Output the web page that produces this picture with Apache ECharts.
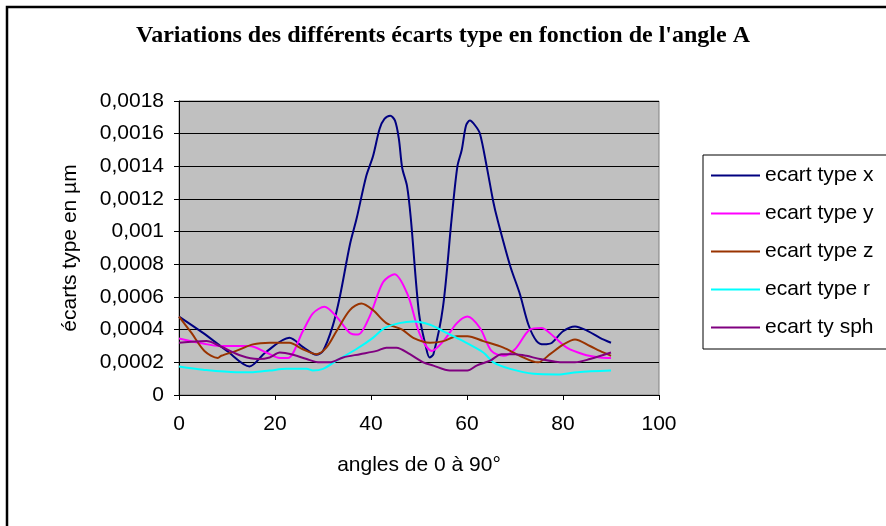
<!DOCTYPE html>
<html>
<head>
<meta charset="utf-8">
<script src="https://cdn.jsdelivr.net/npm/echarts@6/dist/echarts.min.js"></script>
<style>html,body{margin:0;padding:0;background:#fff;}#c{width:886px;height:526px;}</style>
</head>
<body>
<div id="c"></div>
<script>
// ---- data ----
const seriesNames = ['ecart type x', 'ecart type y', 'ecart type z', 'ecart type r', 'ecart ty sph'];

const angleX = [0, 5, 10, 14.7, 18, 23, 26, 28.6, 30, 32, 33.5, 35.6, 37, 39, 40.4, 41.8, 42.8, 44, 45, 45.8, 46.5, 47.5, 48.3, 50, 51.4, 52.2, 53, 55, 56.8, 58, 58.9, 59.8, 60.6, 61.7, 62.7, 64.1, 65.5, 66.3, 69, 71, 72.8, 74.5, 76, 77.7, 80, 82.5, 85.3, 87.7, 90];
const ecartX = [0.00048, 0.00038, 0.00027, 0.000175, 0.00026, 0.00035, 0.00029, 0.000247, 0.00027, 0.00042, 0.0006, 0.00092, 0.00108, 0.00134, 0.00146, 0.00163, 0.00169, 0.00171, 0.00168, 0.00157, 0.00139, 0.00128, 0.00108, 0.0005, 0.0003, 0.00023, 0.00025, 0.00054, 0.00108, 0.0014, 0.0015, 0.00165, 0.00168, 0.00165, 0.0016, 0.0014, 0.00118, 0.00108, 0.00079, 0.00062, 0.00043, 0.00033, 0.00031, 0.00032, 0.00039, 0.00042, 0.00039, 0.00035, 0.00032];

const angleY = [0, 5, 8.5, 14.7, 18.2, 21, 22.7, 25.8, 27.9, 30.3, 32.8, 35.6, 37.3, 39.7, 42.5, 44.9, 47.7, 50.2, 52.7, 55.1, 57.9, 60.1, 62.7, 65.1, 67.6, 70, 73.1, 75.5, 78, 80.8, 84.2, 87.7, 90];
const ecartY = [0.000346, 0.000315, 0.0003, 0.0003, 0.00026, 0.000227, 0.000227, 0.00039, 0.0005, 0.00054, 0.00048, 0.00038, 0.00037, 0.00048, 0.00069, 0.00074, 0.00061, 0.00037, 0.00027, 0.00033, 0.00044, 0.00048, 0.00041, 0.00027, 0.00024, 0.00028, 0.0004, 0.00041, 0.00036, 0.00029, 0.00025, 0.00023, 0.000227];

const angleZ = [0, 2.6, 5.3, 8.1, 8.8, 11.9, 15.4, 18.9, 23, 25.8, 28.6, 30.7, 32.8, 35.6, 38, 40.4, 43.2, 46.5, 48.8, 52.3, 55.1, 57.9, 60.1, 63.4, 67.6, 71, 74.8, 77.3, 80.1, 82.5, 85.6, 87.7, 90];
const ecartZ = [0.00048, 0.00038, 0.00027, 0.000227, 0.00024, 0.00027, 0.00031, 0.00032, 0.00032, 0.00028, 0.00025, 0.00029, 0.00039, 0.00052, 0.00056, 0.00052, 0.00044, 0.0004, 0.00035, 0.00032, 0.00033, 0.00036, 0.00036, 0.00033, 0.00029, 0.00024, 0.0002, 0.00025, 0.00031, 0.00034, 0.0003, 0.00027, 0.00024];

const angleR = [0, 5, 11.9, 15.4, 18.9, 22.4, 26.6, 27.9, 30, 32.8, 36.9, 40.4, 42.8, 45.9, 48.8, 52.3, 55.1, 58.5, 63.4, 65.5, 69, 73.9, 78.9, 83, 90];
const ecartR = [0.000175, 0.000155, 0.00014, 0.00014, 0.00015, 0.00016, 0.00016, 0.00015, 0.00016, 0.00021, 0.00028, 0.00035, 0.00041, 0.00044, 0.00045, 0.00043, 0.00039, 0.00034, 0.00026, 0.0002, 0.00016, 0.00013, 0.000126, 0.00014, 0.00015];

const angleS = [0, 5.7, 8.5, 13, 16.5, 18.9, 21, 23.4, 26.6, 29.3, 31.4, 34.2, 37.7, 41.2, 43.2, 45.3, 48.1, 50.9, 53, 56.4, 60.1, 62, 64.8, 67.2, 70, 72.4, 75.2, 80.1, 82.5, 85.6, 90];
const ecartS = [0.00032, 0.00033, 0.0003, 0.00024, 0.00022, 0.00023, 0.00026, 0.00025, 0.00022, 0.0002, 0.0002, 0.00023, 0.00025, 0.00027, 0.00029, 0.00029, 0.00025, 0.0002, 0.00018, 0.00015, 0.00015, 0.00018, 0.00021, 0.00025, 0.00025, 0.00024, 0.00022, 0.0002, 0.0002, 0.00022, 0.00026];

const xTicks = [0, 20, 40, 60, 80, 100];
const yTicks = [0, 0.0002, 0.0004, 0.0006, 0.0008, 0.001, 0.0012, 0.0014, 0.0016, 0.0018];

const colors = ['#000080', '#FF00FF', '#993300', '#00FFFF', '#800080'];
const xs = [angleX, angleY, angleZ, angleR, angleS];
const ys = [ecartX, ecartY, ecartZ, ecartR, ecartS];

const chart = echarts.init(document.getElementById('c'), null, {renderer: 'canvas'});
const fontSans = 'Arial, "Liberation Sans", sans-serif';
chart.setOption({
  animation: false,
  backgroundColor: '#ffffff',
  title: {
    text: "Variations des différents écarts type en fonction de l'angle A",
    left: 'center',
    top: 19,
    textStyle: {fontFamily: '"Liberation Serif", "Times New Roman", serif', fontWeight: 'bold', fontSize: 24, color: '#000'}
  },
  graphic: [{
    type: 'rect', shape: {x: 7, y: 7, width: 900, height: 540},
    style: {fill: 'none', stroke: '#000', lineWidth: 2.5}, silent: true, z: 100
  }],
  legend: {
    orient: 'vertical',
    left: 703, top: 155,
    padding: [10, 20, 11, 8],
    itemWidth: 49, itemHeight: 2, itemGap: 17,
    icon: 'rect',
    borderColor: '#000', borderWidth: 1,
    backgroundColor: '#fff',
    textStyle: {fontFamily: fontSans, fontSize: 21, color: '#000'},
    data: seriesNames
  },
  grid: {left: 179, right: 227, top: 101, bottom: 131, show: true, backgroundColor: '#C0C0C0', borderColor: '#808080', borderWidth: 1},
  xAxis: {
    type: 'value', min: 0, max: 100, interval: 20,
    name: 'angles de 0 à 90°', nameLocation: 'middle', nameGap: 60,
    nameTextStyle: {fontFamily: fontSans, fontSize: 21, color: '#000'},
    axisLine: {onZero: false, lineStyle: {color: '#000', width: 1}},
    axisTick: {show: true, inside: false, length: 5, lineStyle: {color: '#000'}},
    axisLabel: {fontFamily: fontSans, fontSize: 21, color: '#000', margin: 19,
      customValues: xTicks},
    splitLine: {show: false}
  },
  yAxis: {
    type: 'value', min: 0, max: 0.0018, interval: 0.0002,
    name: 'écarts type en µm', nameLocation: 'middle', nameGap: 98, nameRotate: 90,
    nameTextStyle: {fontFamily: fontSans, fontSize: 21, color: '#000'},
    axisLine: {show: true, lineStyle: {color: '#000', width: 1}},
    axisTick: {show: true, inside: false, length: 5, lineStyle: {color: '#000'}},
    axisLabel: {fontFamily: fontSans, fontSize: 21, color: '#000', margin: 15,
      customValues: yTicks,
      formatter: v => String(+v.toFixed(4)).replace('.', ',')},
    splitLine: {show: true, lineStyle: {color: '#000', width: 1}}
  },
  series: seriesNames.map((n, i) => ({
    name: n, type: 'line', smooth: 0.3, symbol: 'none',
    lineStyle: {color: colors[i], width: 2},
    itemStyle: {color: colors[i]},
    data: xs[i].map((x, j) => [x, ys[i][j]])
  }))
});
</script>
</body>
</html>
